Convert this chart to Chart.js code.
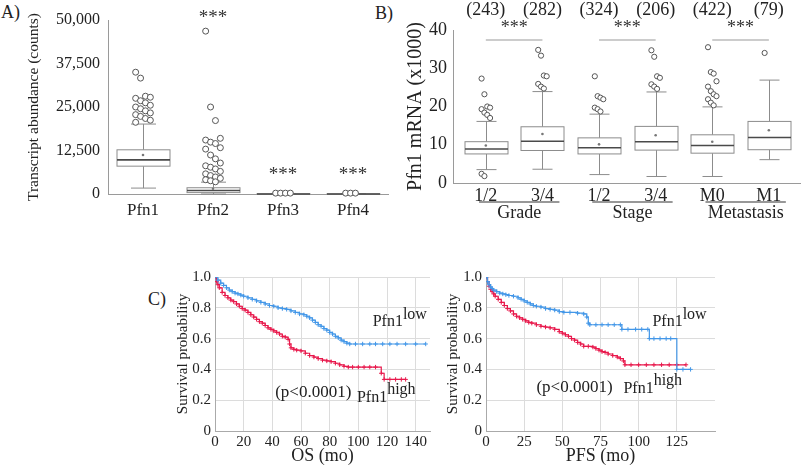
<!DOCTYPE html>
<html>
<head>
<meta charset="utf-8">
<script src="https://cdn.jsdelivr.net/npm/chart.js@4.4.1/dist/chart.umd.min.js"></script>
<style>
  body { margin: 0; width: 805px; height: 472px; position: relative; overflow: hidden; background: #fff;
         font-family: 'Liberation Serif', serif; color: #222; }
  canvas { position: absolute; }
  .tag { position: absolute; font-size: 18px; line-height: 18px; }
</style>
</head>
<body>
<div class="tag" style="left:1px;top:3px">A)</div>
<div class="tag" style="left:375px;top:4px">B)</div>
<div class="tag" style="left:148px;top:290px">C)</div>
<canvas id="chartA" width="400" height="232" style="left:0;top:0"></canvas>
<canvas id="chartB" width="445" height="232" style="left:360px;top:0"></canvas>
<canvas id="chartOS" width="300" height="210" style="left:140px;top:262px"></canvas>
<canvas id="chartPFS" width="300" height="210" style="left:420px;top:262px"></canvas>
<script>
// panel A: transcript counts per profilin gene
const genesA = ["Pfn1", "Pfn2", "Pfn3", "Pfn4"];
const lowA = [1700, 0, 0, 0];
const q1A = [8000, 400, 0, 0];
const medA = [9800, 1000, 20, 10];
const q3A = [12700, 1800, 60, 40];
const highA = [20100, 3400, 150, 100];
const meanA = [11200, 1500, 60, 40];
const outA = [
    [35000, 33300, 28100, 27800, 27500, 26800, 26200, 25500, 25000, 24500, 23900, 23300, 22800, 22300, 21700, 21200, 20600],
    [46800, 25000, 21100, 16000, 15500, 14900, 14500, 13300, 12900, 11200, 10100, 8900, 8100, 7700, 7200, 6500, 5800, 5300, 4900, 4500, 4100, 3800, 3500],
    [250, 250, 250, 250],
    [250, 250, 250],
];
const yTicksA = [0, 12500, 25000, 37500, 50000];

// panel B: Pfn1 mRNA (x1000) by grade, stage, metastasis
const strataB = ["1/2", "3/4", "1/2", "3/4", "M0", "M1"];
const countsB = [243, 282, 324, 206, 422, 79];
const groupsB = ["Grade", "Stage", "Metastasis"];
const lowB = [3.5, 3.6, 2.2, 1.7, 1.7, 6.1];
const q1B = [7.6, 8.5, 7.6, 8.6, 7.8, 8.7];
const medB = [8.9, 10.9, 9.2, 10.8, 9.8, 11.9];
const q3B = [10.8, 14.7, 11.8, 14.8, 12.6, 16.1];
const highB = [16.1, 23.9, 18.0, 23.8, 19.9, 26.9];
const meanB = [9.8, 12.8, 10.1, 12.5, 10.8, 13.8];
const outB = [
    [27.3, 23.2, 20.0, 19.7, 19.3, 18.4, 17.8, 17.0, 2.4, 1.8],
    [34.8, 33.3, 28.1, 27.9, 25.9, 25.2, 24.7],
    [27.9, 22.7, 22.3, 21.9, 19.7, 19.3, 18.7],
    [34.7, 33.0, 27.9, 27.5, 25.8, 25.2, 24.6],
    [35.5, 29.0, 28.6, 26.6, 25.2, 24.0, 23.2, 22.7, 21.9, 21.0, 20.3],
    [34.0],
];
const yTicksB = [0, 10, 20, 30, 40];

// panel C: Kaplan-Meier, OS
const osTimeLow = [0, 2, 4, 6, 8, 10, 12, 14, 16, 18, 20, 23, 26, 29, 32, 35, 38, 41, 44, 47, 50, 53, 56, 59, 62, 64, 66, 68, 70, 72, 74, 76, 78, 80, 82, 84, 86, 88, 90, 92, 94, 98, 103, 108, 112, 117, 122, 127, 133, 140, 147];
const osSurvLow = [1.0, 0.98, 0.96, 0.945, 0.93, 0.915, 0.905, 0.895, 0.89, 0.882, 0.875, 0.865, 0.855, 0.845, 0.835, 0.825, 0.815, 0.81, 0.8, 0.795, 0.79, 0.78, 0.77, 0.76, 0.755, 0.745, 0.735, 0.72, 0.705, 0.69, 0.68, 0.665, 0.655, 0.64, 0.63, 0.615, 0.605, 0.59, 0.58, 0.57, 0.565, 0.565, 0.565, 0.565, 0.565, 0.565, 0.565, 0.565, 0.565, 0.565, 0.565];
const osTimeHigh = [0, 1, 2, 3, 5, 7, 9, 11, 13, 15, 17, 19, 21, 23, 25, 27, 29, 31, 33, 35, 37, 39, 41, 43, 45, 47, 49, 51, 52, 53, 55, 57, 60, 63, 66, 69, 72, 75, 78, 81, 84, 87, 90, 93, 96, 100, 104, 108, 112, 116, 118, 122, 126, 130, 133];
const osSurvHigh = [1.0, 0.97, 0.95, 0.93, 0.9, 0.88, 0.865, 0.85, 0.84, 0.825, 0.81, 0.795, 0.785, 0.77, 0.755, 0.74, 0.725, 0.71, 0.7, 0.685, 0.67, 0.66, 0.65, 0.64, 0.63, 0.615, 0.61, 0.595, 0.565, 0.54, 0.53, 0.525, 0.52, 0.505, 0.49, 0.48, 0.47, 0.46, 0.455, 0.45, 0.44, 0.43, 0.42, 0.415, 0.415, 0.415, 0.415, 0.415, 0.415, 0.375, 0.335, 0.335, 0.335, 0.335, 0.335];

// panel C: Kaplan-Meier, PFS
const pfsTimeLow = [0, 1, 2, 3, 4, 5, 7, 9, 11, 13, 15, 18, 21, 23, 25, 27, 29, 31, 33, 36, 39, 42, 45, 48, 51, 55, 60, 64, 66, 67, 68, 72, 76, 80, 84, 88, 89, 93, 98, 102, 106, 107, 110, 114, 118, 121, 125, 129, 134];
const pfsSurvLow = [1.0, 0.97, 0.95, 0.935, 0.925, 0.915, 0.905, 0.895, 0.89, 0.885, 0.88, 0.875, 0.865, 0.855, 0.845, 0.835, 0.825, 0.815, 0.81, 0.805, 0.795, 0.79, 0.785, 0.775, 0.77, 0.77, 0.765, 0.76, 0.74, 0.7, 0.69, 0.69, 0.69, 0.69, 0.69, 0.69, 0.66, 0.66, 0.66, 0.66, 0.66, 0.6, 0.6, 0.6, 0.6, 0.6, 0.4, 0.4, 0.4];
const pfsTimeHigh = [0, 1, 2, 3, 4, 5, 6, 8, 10, 12, 14, 16, 18, 20, 22, 24, 26, 28, 30, 33, 36, 39, 42, 45, 48, 50, 52, 54, 56, 58, 60, 62, 64, 67, 70, 72, 74, 76, 78, 80, 83, 86, 88, 90, 91, 95, 100, 105, 110, 115, 120, 125, 131];
const pfsSurvHigh = [1.0, 0.97, 0.94, 0.92, 0.905, 0.89, 0.875, 0.855, 0.835, 0.815, 0.795, 0.78, 0.76, 0.745, 0.735, 0.725, 0.715, 0.705, 0.7, 0.69, 0.68, 0.675, 0.67, 0.66, 0.645, 0.635, 0.625, 0.615, 0.6, 0.59, 0.575, 0.565, 0.55, 0.55, 0.545, 0.535, 0.525, 0.515, 0.51, 0.5, 0.49, 0.48, 0.47, 0.455, 0.43, 0.43, 0.43, 0.43, 0.43, 0.43, 0.43, 0.43, 0.43];

const osTicks = [0, 20, 40, 60, 80, 100, 120, 140];
const pfsTicks = [0, 25, 50, 75, 100, 125];
const survTicks = [0, 0.2, 0.4, 0.6, 0.8, 1.0];

const SERIF = "'Liberation Serif', serif";
const BLUE = "#4397e8";
const RED = "#e8194c";
Chart.defaults.font.family = SERIF;
Chart.defaults.color = "#222";
Chart.defaults.animation = false;

function fixTicks(values) {
    return (scale) => {
        scale.ticks = values.map((v) => ({ value: v }));
    };
}

function line(ctx, x1, y1, x2, y2) {
    ctx.beginPath();
    ctx.moveTo(x1, y1);
    ctx.lineTo(x2, y2);
    ctx.stroke();
}

// spread outliers a little so equal values stay visible
function outlierPoints(lists, firstPos, spread) {
    const jitter = [-1.5, -0.5, 0.5, 1.5];
    const pts = [];
    lists.forEach((vals, i) => {
        vals.forEach((v, k) => pts.push({ x: firstPos + i + jitter[k % 4] * spread, y: v }));
    });
    return pts;
}

function boxLayer(stats, firstPos, boxW, capW) {
    return {
        id: "boxLayer",
        beforeDatasetsDraw(chart) {
            const { ctx, scales: { x, y } } = chart;
            ctx.save();
            stats.low.forEach((_, i) => {
                const cx = Math.round(x.getPixelForValue(firstPos + i)) + 0.5;
                const yl = y.getPixelForValue(stats.low[i]);
                const y1 = y.getPixelForValue(stats.q1[i]);
                const ym = y.getPixelForValue(stats.med[i]);
                const y3 = y.getPixelForValue(stats.q3[i]);
                const yh = y.getPixelForValue(stats.high[i]);
                ctx.strokeStyle = "#8c8c8c";
                ctx.lineWidth = 1;
                line(ctx, cx, yh, cx, y3);
                line(ctx, cx, y1, cx, yl);
                line(ctx, cx - capW / 2, yh, cx + capW / 2, yh);
                line(ctx, cx - capW / 2, yl, cx + capW / 2, yl);
                ctx.fillStyle = "#fff";
                ctx.fillRect(cx - boxW / 2, y3, boxW, y1 - y3);
                ctx.strokeRect(cx - boxW / 2, y3, boxW, y1 - y3);
                ctx.strokeStyle = "#4a4a4a";
                ctx.lineWidth = 1.6;
                line(ctx, cx - boxW / 2, ym, cx + boxW / 2, ym);
            });
            ctx.restore();
        },
    };
}

const outlierStyle = {
    pointStyle: "circle",
    borderColor: "#555",
    backgroundColor: "#fff",
    borderWidth: 1,
    clip: false,
};
const meanStyle = {
    pointRadius: 1.3,
    backgroundColor: "#777",
    borderWidth: 0,
    clip: false,
};

function drawPanelA() {
    new Chart(document.getElementById("chartA"), {
        type: "scatter",
        data: {
            datasets: [
                { ...outlierStyle, data: outlierPoints(outA, 0, 0.07), pointRadius: 3 },
                { ...meanStyle, data: meanA.map((v, i) => ({ x: i, y: v })) },
            ],
        },
        options: {
            responsive: false,
            events: [],
            layout: { padding: { left: 22, right: 12, top: 20, bottom: 0 } },
            plugins: { legend: { display: false }, tooltip: { enabled: false } },
            scales: {
                x: {
                    type: "linear", min: -0.5, max: 3.5,
                    afterBuildTicks: fixTicks([0, 1, 2, 3]),
                    afterFit: (s) => { s.height = 38; },
                    grid: { display: false, drawTicks: false },
                    border: { color: "#9a9a9a" },
                    ticks: { padding: 6, font: { size: 17 }, callback: (v) => genesA[v] },
                },
                y: {
                    min: 0, max: 50000,
                    afterBuildTicks: fixTicks(yTicksA),
                    afterFit: (s) => { s.width = 86; },
                    grid: { display: false, drawTicks: false },
                    border: { color: "#9a9a9a" },
                    ticks: { padding: 8, font: { size: 16 }, callback: (v) => v.toLocaleString("en-US") },
                    title: { display: true, text: "Transcript abundance (counts)", font: { size: 15.5 }, padding: { top: 3, bottom: 2 } },
                },
            },
        },
        plugins: [
            boxLayer({ low: lowA, q1: q1A, med: medA, q3: q3A, high: highA }, 0, 53, 25),
            {
                id: "starsA",
                afterDraw(chart) {
                    const { ctx, chartArea, scales: { x } } = chart;
                    ctx.save();
                    ctx.fillStyle = "#333";
                    ctx.font = `19px ${SERIF}`;
                    ctx.textAlign = "center";
                    ctx.textBaseline = "middle";
                    ctx.fillText("***", x.getPixelForValue(1), chartArea.top - 2);
                    ctx.fillText("***", x.getPixelForValue(2), chartArea.bottom - 19);
                    ctx.fillText("***", x.getPixelForValue(3), chartArea.bottom - 19);
                    ctx.restore();
                },
            },
        ],
    });
}

function drawPanelB() {
    new Chart(document.getElementById("chartB"), {
        type: "scatter",
        data: {
            datasets: [
                { ...outlierStyle, data: outlierPoints(outB, 1, 0.05), pointRadius: 2.6 },
                { ...meanStyle, data: meanB.map((v, i) => ({ x: i + 1, y: v })) },
            ],
        },
        options: {
            responsive: false,
            events: [],
            layout: { padding: { left: 42, right: 2, top: 30, bottom: 0 } },
            plugins: { legend: { display: false }, tooltip: { enabled: false } },
            scales: {
                x: {
                    type: "linear", min: 0.42, max: 6.55,
                    afterBuildTicks: fixTicks([1, 2, 3, 4, 5, 6]),
                    afterFit: (s) => { s.height = 49; },
                    grid: { display: false, drawTicks: false },
                    border: { color: "#9a9a9a" },
                    ticks: { padding: 2, font: { size: 18 }, callback: (v) => strataB[v - 1] },
                },
                y: {
                    min: 0, max: 40,
                    afterBuildTicks: fixTicks(yTicksB),
                    afterFit: (s) => { s.width = 51; },
                    grid: { display: false, drawTicks: false },
                    border: { color: "#9a9a9a" },
                    ticks: { padding: 6, font: { size: 18 } },
                    title: { display: true, text: "Pfn1 mRNA (x1000)", font: { size: 20 }, padding: { top: 2, bottom: 2 } },
                },
            },
        },
        plugins: [
            boxLayer({ low: lowB, q1: q1B, med: medB, q3: q3B, high: highB }, 1, 43, 20),
            {
                id: "annotB",
                afterDraw(chart) {
                    const { ctx, scales: { x } } = chart;
                    ctx.save();
                    ctx.textAlign = "center";
                    ctx.textBaseline = "middle";
                    ctx.fillStyle = "#222";
                    ctx.font = `18px ${SERIF}`;
                    countsB.forEach((n, i) => ctx.fillText(`(${n})`, x.getPixelForValue(i + 1), 10));
                    groupsB.forEach((g, j) => {
                        const a = x.getPixelForValue(2 * j + 1);
                        const b = x.getPixelForValue(2 * j + 2);
                        ctx.strokeStyle = "#999";
                        ctx.lineWidth = 1.2;
                        line(ctx, a, 40, b, 40);
                        ctx.fillStyle = "#333";
                        ctx.font = `18px ${SERIF}`;
                        ctx.fillText("***", (a + b) / 2, 28);
                        const ua = x.getPixelForValue(2 * j + 1 - 0.12);
                        const ub = x.getPixelForValue(2 * j + 2 + 0.3);
                        ctx.strokeStyle = "#333";
                        ctx.lineWidth = 1.2;
                        line(ctx, ua, 202, ub, 202);
                        ctx.fillStyle = "#222";
                        ctx.font = `18px ${SERIF}`;
                        ctx.fillText(g, (ua + ub) / 2, 213);
                    });
                    ctx.restore();
                },
            },
        ],
    });
}

function kmChart(id, timesLow, survLow, timesHigh, survHigh, xTicks, xTitle, padLeft, yWidth, padRight, labels) {
    const curve = (times, surv, color) => ({
        data: times.map((t, i) => ({ x: t, y: surv[i] })),
        stepped: true,
        borderColor: color,
        borderWidth: 1.2,
        pointStyle: "cross",
        pointRadius: 2.2,
        pointBorderColor: color,
        pointBorderWidth: 1,
        fill: false,
    });
    return new Chart(document.getElementById(id), {
        type: "line",
        data: {
            datasets: [
                curve(timesLow, survLow, BLUE),
                curve(timesHigh, survHigh, RED),
            ],
        },
        options: {
            responsive: false,
            events: [],
            layout: { padding: { left: padLeft, right: padRight, top: 15, bottom: 5 } },
            plugins: { legend: { display: false }, tooltip: { enabled: false } },
            scales: {
                x: {
                    type: "linear", min: 0, max: 150,
                    afterBuildTicks: fixTicks(xTicks),
                    afterFit: (s) => { s.height = 36; },
                    grid: { color: "#dcdcdc", drawTicks: false },
                    border: { color: "#aaa" },
                    ticks: { padding: 2, font: { size: 15 } },
                    title: { display: true, text: xTitle, font: { size: 18 }, padding: { top: 0, bottom: 0 } },
                },
                y: {
                    min: 0, max: 1,
                    afterBuildTicks: fixTicks(survTicks),
                    afterFit: (s) => { s.width = yWidth; },
                    grid: { color: "#dcdcdc", drawTicks: false },
                    border: { color: "#aaa" },
                    ticks: { padding: 4, font: { size: 15 }, callback: (v) => (v === 0 ? "0" : v.toFixed(1)) },
                    title: { display: true, text: "Survival probability", font: { size: 15 }, padding: { top: 4, bottom: 2 } },
                },
            },
        },
        plugins: [
            {
                id: "kmLabels",
                afterDraw(chart) {
                    const { ctx, scales: { x, y } } = chart;
                    ctx.save();
                    ctx.fillStyle = "#222";
                    ctx.textBaseline = "alphabetic";
                    const sup = (t, v, base, top, lift) => {
                        const px = x.getPixelForValue(t);
                        const py = y.getPixelForValue(v);
                        ctx.font = `16px ${SERIF}`;
                        ctx.fillText(base, px, py);
                        const w = ctx.measureText(base).width;
                        ctx.font = `16px ${SERIF}`;
                        ctx.fillText(top, px + w, py - lift);
                    };
                    sup(labels.low[0], labels.low[1], "Pfn1", "low", 7);
                    sup(labels.high[0], labels.high[1], "Pfn1", "high", 8);
                    ctx.font = `17px ${SERIF}`;
                    ctx.fillText("(p<0.0001)", x.getPixelForValue(labels.p[0]), y.getPixelForValue(labels.p[1]));
                    ctx.restore();
                },
            },
        ],
    });
}

function drawAll() {
    drawPanelA();
    drawPanelB();
    kmChart("chartOS", osTimeLow, osSurvLow, osTimeHigh, osSurvHigh, osTicks, "OS (mo)", 30, 45, 10,
        { low: [110, 0.68], high: [99, 0.19], p: [42, 0.22] });
    kmChart("chartPFS", pfsTimeLow, pfsSurvLow, pfsTimeHigh, pfsSurvHigh, pfsTicks, "PFS (mo)", 20, 46, 4,
        { low: [109, 0.68], high: [90, 0.25], p: [33, 0.255] });
}

document.fonts.load("16px 'Liberation Serif'").then(drawAll, drawAll);
</script>
</body>
</html>
